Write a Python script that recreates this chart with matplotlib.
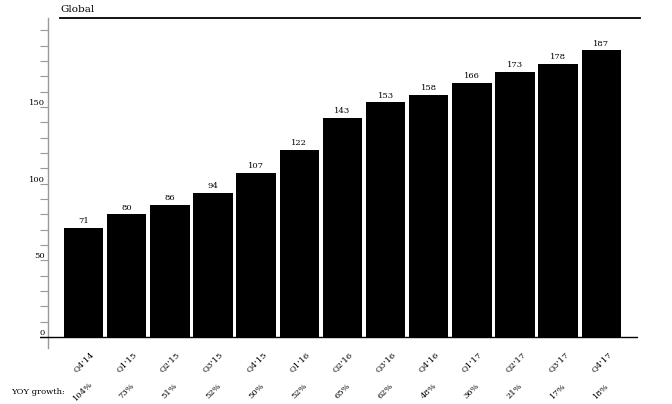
import matplotlib
matplotlib.use("Agg")
import matplotlib.pyplot as plt
from matplotlib.lines import Line2D
import matplotlib.transforms as mtransforms

quarters = ["Q4'14", "Q1'15", "Q2'15", "Q3'15", "Q4'15", "Q1'16", "Q2'16",
            "Q3'16", "Q4'16", "Q1'17", "Q2'17", "Q3'17", "Q4'17"]
values = [71, 80, 86, 94, 107, 122, 143, 153, 158, 166, 173, 178, 187]
yoy_growth = ["104%", "73%", "51%", "52%", "50%", "52%", "65%", "62%",
              "48%", "36%", "21%", "17%", "18%"]
y_ticks = list(range(0, 201, 10))
y_labels = [0, 50, 100, 150]
title = "Global"

plt.rcParams['font.family'] = ['DejaVu Serif']
W, H = 672, 404
fig = plt.figure(figsize=(W / 100, H / 100), dpi=100)
ax = fig.add_axes([40 / W, 1 - 348 / H, 598 / W, 330 / H])

x = list(range(len(quarters)))
ax.bar(x, values, width=0.915, color='black', zorder=2)
for xi, v in zip(x, values):
    ax.annotate(str(v), (xi, v), xytext=(0, 2), textcoords='offset points',
                ha='center', va='bottom', fontsize=6)

ax.set_xlim(-1.008, 12.85)
ax.set_ylim(-7.18, 208.1)
ax.axhline(0, color='black', lw=1, zorder=3)

for s in ['top', 'right', 'bottom']:
    ax.spines[s].set_visible(False)
ax.spines['left'].set_position(('axes', 8 / 598))
ax.spines['left'].set_color('#999999')
ax.spines['left'].set_linewidth(1)

ax.set_yticks(y_ticks)
ax.set_yticklabels([str(t) if t in y_labels else '' for t in y_ticks])
ax.tick_params(axis='y', length=5.8, width=0.8, color='#999999', pad=-3.6,
               labelsize=6)
for lab in ax.get_yticklabels():
    lab.set_va('bottom')

ax.set_xticks(x)
ax.set_xticklabels(quarters, rotation=45, ha='center', va='top', fontsize=6)
ax.tick_params(axis='x', length=0, pad=1.5)

trans = mtransforms.blended_transform_factory(ax.transData, fig.transFigure)
for xi, g in zip(x, yoy_growth):
    ax.text(xi, 1 - 391 / H, g, transform=trans, rotation=45, ha='center',
            va='center', fontsize=6)
fig.text(11 / W, 1 - 392 / H, "YOY growth:", ha='left', va='center', fontsize=6)

fig.add_artist(Line2D([60 / W, 640 / W], [1 - 18 / H] * 2, color='black', lw=1.3))
fig.text(60 / W, 1 - 9 / H, title, ha='left', va='center', fontsize=7.5)

fig.savefig("out.png", dpi=100)
